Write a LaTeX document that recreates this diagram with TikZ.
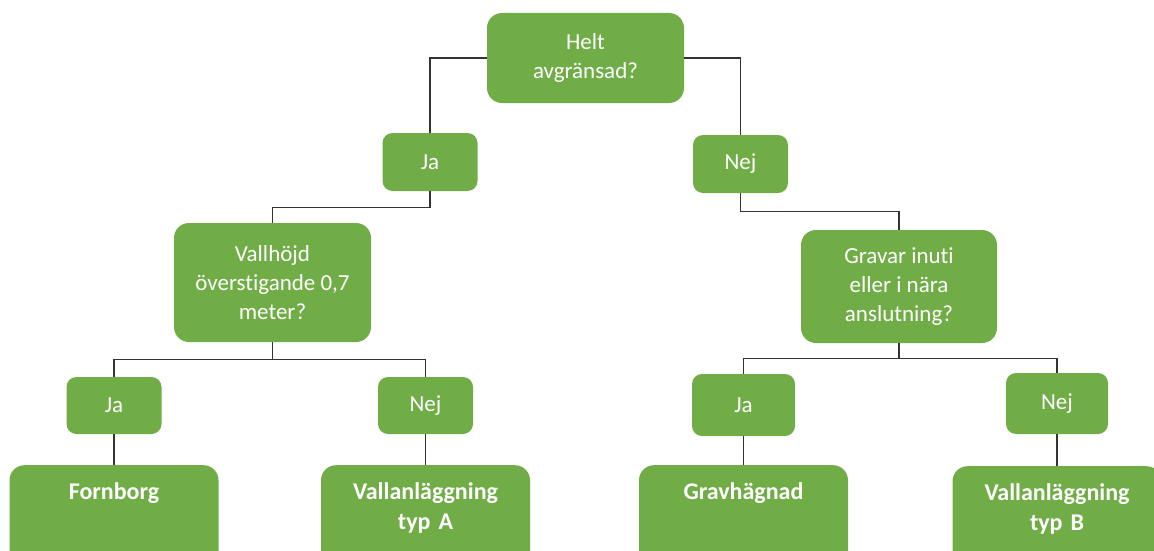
\documentclass[tikz,border=0pt]{standalone}
\usepackage{fontspec}
\setmainfont{Carlito}[Ligatures=NoCommon]
\definecolor{boxgreen}{HTML}{70AD47}
\begin{document}
\begin{tikzpicture}[x=1pt,y=-1pt,
  box/.style={fill=boxgreen, draw=none, text=white, align=center, inner sep=0pt,
    font=\fontsize{23}{29}\selectfont},
  qbox/.style={box, rounded corners=15pt},
  ansbox/.style={box, rounded corners=10pt},
  leaf/.style={fill=boxgreen, draw=none, text=white, align=center, rounded corners=15pt,
    inner sep=0pt, anchor=north, text width=209pt, minimum width=209pt,
    text height=34pt, text depth=100pt,
    font=\fontsize{24}{30}\selectfont\bfseries},
  conn/.style={draw=black!80, line width=1.3pt}
]
\useasboundingbox (0,0) rectangle (1154,551);
\clip (0,0) rectangle (1154,551);

\node[qbox, minimum width=197pt, minimum height=90pt] (top) at (585.5,58) {Helt\\avgränsad?};
\node[ansbox, minimum width=95pt, minimum height=58pt] (ja1) at (430,162) {Ja};
\node[ansbox, minimum width=95pt, minimum height=58pt] (nej1) at (740.5,164) {Nej};
\node[qbox, minimum width=197pt, minimum height=119pt] (q2) at (272.5,282.5) {Vallhöjd\\överstigande 0,7\\meter?};
\node[qbox, minimum width=196pt, minimum height=113pt] (q3) at (899,286.5) {Gravar inuti\\eller i nära\\anslutning?};
\node[ansbox, minimum width=95pt, minimum height=57pt] (ja2) at (114,405.5) {Ja};
\node[ansbox, minimum width=95pt, minimum height=57pt] (nej2) at (425.5,405.5) {Nej};
\node[ansbox, minimum width=103pt, minimum height=62pt] (ja3) at (743.5,405) {Ja};
\node[ansbox, minimum width=102pt, minimum height=61pt] (nej3) at (1057,403.5) {Nej};

\node[leaf] (fornborg) at (114,465) {Fornborg};
\node[leaf] (vallA) at (425.5,465) {Vallanläggning\\typ A};
\node[leaf] (grav) at (743.5,465) {Gravhägnad};
\node[leaf] (vallB) at (1057,466) {Vallanläggning\\typ B};

\draw[conn] (top.west) -| (ja1.north);
\draw[conn] (top.east) -| (nej1.north);
\draw[conn] (ja1.south) -- ++(0,16) -| (q2.north);
\draw[conn] (nej1.south) -- ++(0,18) -| (q3.north);
\draw[conn] (q2.south) -- ++(0,17) coordinate (b2);
\draw[conn] (b2) -| (ja2.north);
\draw[conn] (b2) -| (nej2.north);
\draw[conn] (q3.south) -- ++(0,15) coordinate (b3);
\draw[conn] (b3) -| (ja3.north);
\draw[conn] (b3) -| (nej3.north);
\draw[conn] (ja2.south) -- (fornborg.north);
\draw[conn] (nej2.south) -- (vallA.north);
\draw[conn] (ja3.south) -- (grav.north);
\draw[conn] (nej3.south) -- (vallB.north);
\end{tikzpicture}
\end{document}
